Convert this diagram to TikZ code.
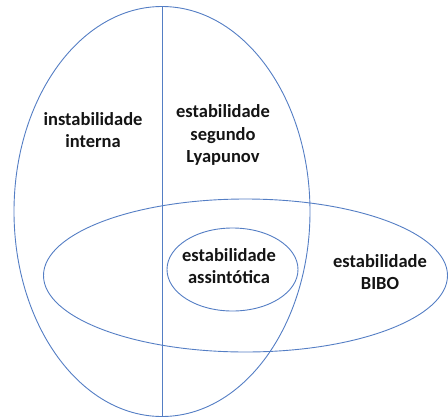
\documentclass[tikz,border=0pt]{standalone}
\usepackage{fontspec}
\setmainfont{Carlito}
\usetikzlibrary{shapes.geometric}
\definecolor{setblue}{RGB}{84,126,196}
\begin{document}
\begin{tikzpicture}[x=1pt,y=-1pt,
  setline/.style={draw=setblue,line width=0.9pt},
  setlabel/.style={font=\bfseries\fontsize{18.5}{22.5}\selectfont,align=center,text=black!92,inner sep=0pt}]
  \useasboundingbox (0,0) rectangle (448,416);
  % internal-stability region and its dividing line
  \draw[setline] (162,211.5) ellipse [x radius=148, y radius=205];
  \coordinate (top) at (162,7);
  \coordinate (bot) at (162,416);
  \draw[setline] (top) -- (bot);
  % BIBO set
  \draw[setline] (245.5,275.5) ellipse [x radius=202, y radius=76.5];
  % asymptotic stability
  \draw[setline] (232.5,269.5) ellipse [x radius=65.5, y radius=41.5];
  % labels
  \node[setlabel] (inst) at (93,130) {instabilidade\\interna};
  \node[setlabel] (lyap) at (223,135) {estabilidade\\segundo\\Lyapunov};
  \node[setlabel] (assin) at (229,266) {estabilidade\\assintótica};
  \node[setlabel] (bibo) at (380,272) {estabilidade\\BIBO};
\end{tikzpicture}
\end{document}
